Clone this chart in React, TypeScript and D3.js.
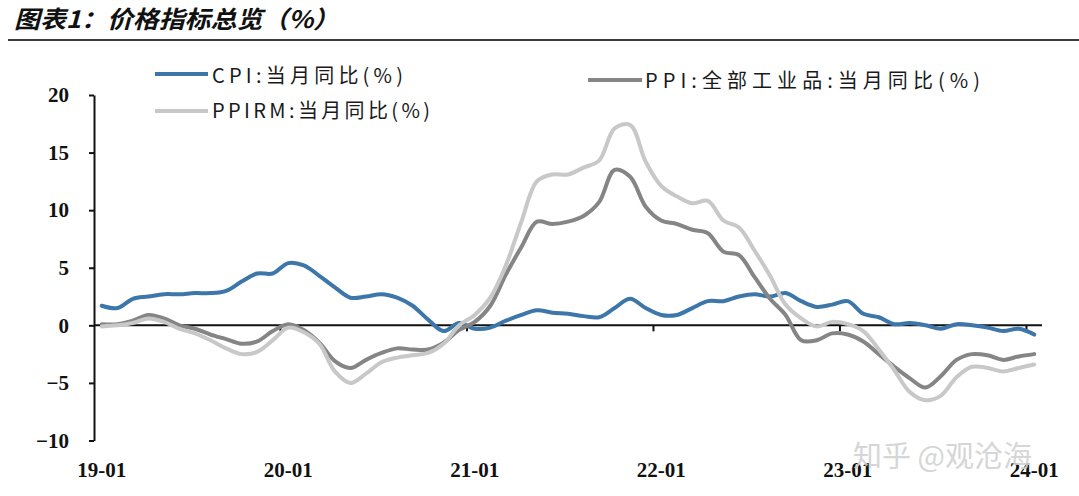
import React, { Component } from 'react';
import * as d3 from 'd3';

// 2019-01 .. 2024-01, monthly, % y/y
const cpiValues = [
  1.7, 1.5, 2.3, 2.5, 2.7, 2.7, 2.8, 2.8, 3.0, 3.8, 4.5, 4.5,
  5.4, 5.2, 4.3, 3.3, 2.4, 2.5, 2.7, 2.4, 1.7, 0.5, -0.5, 0.2,
  -0.3, -0.2, 0.4, 0.9, 1.3, 1.1, 1.0, 0.8, 0.7, 1.5, 2.3, 1.5,
  0.9, 0.9, 1.5, 2.1, 2.1, 2.5, 2.7, 2.5, 2.8, 2.1, 1.6, 1.8,
  2.1, 1.0, 0.7, 0.1, 0.2, 0.0, -0.3, 0.1, 0.0, -0.2, -0.5, -0.3,
  -0.8,
];
const ppiValues = [
  0.1, 0.1, 0.4, 0.9, 0.6, 0.0, -0.3, -0.8, -1.2, -1.6, -1.4, -0.5,
  0.1, -0.4, -1.5, -3.1, -3.7, -3.0, -2.4, -2.0, -2.1, -2.1, -1.5, -0.4,
  0.3, 1.7, 4.4, 6.8, 9.0, 8.8, 9.0, 9.5, 10.7, 13.5, 12.9, 10.3,
  9.1, 8.8, 8.3, 8.0, 6.4, 6.1, 4.2, 2.3, 0.9, -1.3, -1.3, -0.7,
  -0.8, -1.4, -2.5, -3.6, -4.6, -5.4, -4.4, -3.0, -2.5, -2.6, -3.0, -2.7,
  -2.5,
];
const ppirmValues = [
  -0.1, 0.0, 0.2, 0.6, 0.3, -0.3, -0.7, -1.3, -2.0, -2.5, -2.3, -1.3,
  -0.2, -0.6, -1.6, -4.0, -5.0, -4.2, -3.2, -2.8, -2.6, -2.4, -1.6, 0.0,
  0.9, 2.4, 5.2, 9.0, 12.5, 13.1, 13.1, 13.7, 14.3, 17.1, 17.4, 14.2,
  12.1, 11.2, 10.6, 10.8, 9.1, 8.5, 6.5, 4.3, 1.8, 0.6, -0.1, 0.3,
  0.1, -0.5, -2.1, -3.9, -5.8, -6.5, -6.1, -4.5, -3.6, -3.7, -4.0, -3.7,
  -3.4,
];
const xTickLabels = ['19-01', '20-01', '21-01', '22-01', '23-01', '24-01'];
const yTicks = [-10, -5, 0, 5, 10, 15, 20];

const title = '图表1：价格指标总览（%）';
const seriesNames = ['CPI:当月同比(%)', 'PPI:全部工业品:当月同比(%)', 'PPIRM:当月同比(%)'];
const seriesColors = ['#3d76a9', '#858585', '#c8c8c8'];

class App extends Component {
  svgRef = React.createRef<SVGSVGElement>();

  drawChart() {
    const W = 1079, H = 496;
    const svg = d3.select(this.svgRef.current);
    svg.selectAll('*').remove();
    svg.attr('viewBox', [0, 0, W, H].join(' '));

    const x = d3.scaleBand<number>()
      .domain(d3.range(cpiValues.length))
      .range([94, 1042]);
    const cx = (i: number) => (x(i) as number) + x.bandwidth() / 2;
    const y = d3.scaleLinear().domain([-10, 20]).range([440.5, 95]);

    // title
    svg.append('text')
      .attr('x', 14).attr('y', 28)
      .attr('font-family', '"Noto Sans CJK SC"')
      .attr('font-weight', 700)
      .attr('font-style', 'italic')
      .attr('font-size', 24)
      .attr('textLength', 325)
      .attr('lengthAdjust', 'spacingAndGlyphs')
      .attr('fill', '#111')
      .text(title);
    svg.append('line')
      .attr('x1', 8).attr('x2', W).attr('y1', 40).attr('y2', 40)
      .attr('stroke', '#3a3a3a').attr('stroke-width', 2);

    // y axis
    const yAxis = svg.append('g')
      .attr('transform', 'translate(94,0)')
      .call(d3.axisLeft(y).tickValues(yTicks).tickSize(5).tickSizeOuter(0).tickPadding(20).tickFormat(d3.format('d')));
    yAxis.select('.domain').attr('stroke', '#111').attr('stroke-width', 2);
    yAxis.selectAll('line').attr('stroke', '#111').attr('stroke-width', 2);
    yAxis.selectAll('text')
      .attr('font-family', '"Liberation Serif", serif')
      .attr('font-weight', 700)
      .attr('font-size', 21)
      .attr('fill', '#111');

    // zero line with yearly ticks
    const zero = y(0);
    svg.append('line')
      .attr('x1', 94).attr('x2', 1042).attr('y1', zero).attr('y2', zero)
      .attr('stroke', '#111').attr('stroke-width', 2);
    const yearIdx = xTickLabels.map((_, k) => k * 12);
    svg.append('g').selectAll('line')
      .data(yearIdx.slice(1))
      .join('line')
      .attr('x1', d => x(d) as number).attr('x2', d => x(d) as number)
      .attr('y1', zero).attr('y2', zero + 6)
      .attr('stroke', '#111').attr('stroke-width', 2);

    svg.append('g').selectAll('text')
      .data(yearIdx)
      .join('text')
      .attr('x', d => cx(d))
      .attr('y', 477)
      .attr('text-anchor', 'middle')
      .attr('font-family', '"Liberation Serif", serif')
      .attr('font-weight', 700)
      .attr('font-size', 21)
      .attr('fill', '#111')
      .text((d, k) => xTickLabels[k]);

    // series
    const line = d3.line<number>()
      .x((d, i) => cx(i))
      .y(d => y(d))
      .curve(d3.curveCatmullRom.alpha(0.5));
    [cpiValues, ppiValues, ppirmValues].forEach((vals, k) => {
      svg.append('path')
        .attr('d', line(vals) as string)
        .attr('fill', 'none')
        .attr('stroke', seriesColors[k])
        .attr('stroke-width', 4)
        .attr('stroke-linejoin', 'round')
        .attr('stroke-linecap', 'round');
    });

    // legend
    const legend = [
      { x1: 155, x2: 208, ly: 74, ty: 83, tx: 212, tw: 191 },
      { x1: 588, x2: 642, ly: 80, ty: 88, tx: 645, tw: 335 },
      { x1: 155, x2: 208, ly: 111, ty: 118, tx: 212, tw: 218 },
    ];
    const lg = svg.append('g');
    legend.forEach((l, k) => {
      lg.append('line')
        .attr('x1', l.x1).attr('x2', l.x2).attr('y1', l.ly).attr('y2', l.ly)
        .attr('stroke', seriesColors[k]).attr('stroke-width', 4);
      lg.append('text')
        .attr('x', l.tx).attr('y', l.ty)
        .attr('font-family', '"Noto Sans CJK SC"')
        .attr('font-size', 20)
        .attr('fill', '#1a1a1a')
        .attr('textLength', l.tw)
        .attr('lengthAdjust', 'spacing')
        .text(seriesNames[k]);
    });

    // watermark
    svg.append('text')
      .attr('x', 853).attr('y', 467)
      .attr('font-family', '"Noto Sans CJK SC"')
      .attr('font-size', 29)
      .attr('fill', '#d2d2d2')
      .attr('opacity', 0.9)
      .text('知乎 @观沧海');
  }

  componentDidMount() {
    this.drawChart();
  }

  render() {
    return (
      <svg
        ref={this.svgRef}
        width={1079}
        height={496}
        style={{ position: 'absolute', left: 0, top: 0, background: '#fff' }}
      />
    );
  }
}

export default App;
